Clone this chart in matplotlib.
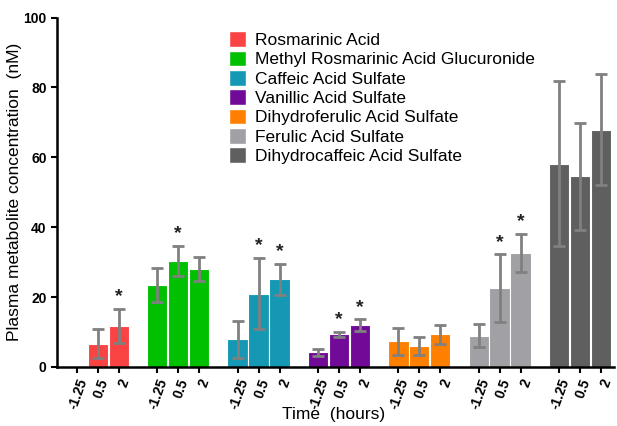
import matplotlib
matplotlib.use("Agg")
import matplotlib.pyplot as plt
import numpy as np
from matplotlib.patches import Patch

plt.rcParams['font.family'] = ['Liberation Sans', 'DejaVu Sans']

metabolites = ["Rosmarinic Acid", "Methyl Rosmarinic Acid Glucuronide", "Caffeic Acid Sulfate",
               "Vanillic Acid Sulfate", "Dihydroferulic Acid Sulfate", "Ferulic Acid Sulfate",
               "Dihydrocaffeic Acid Sulfate"]
times = ["-1.25", "0.5", "2"]
colors = ["#FA4444", "#00C000", "#1498B3", "#720A98", "#FF7F00", "#A0A0A5", "#5F5F5F"]

means = [
    [0.0, 6.7, 11.7],
    [23.5, 30.3, 28.1],
    [7.9, 21.0, 25.1],
    [4.2, 9.4, 12.0],
    [7.4, 6.0, 9.3],
    [9.0, 22.5, 32.6],
    [58.2, 54.6, 67.9],
]
errors = [
    [0.0, 4.2, 4.9],
    [4.9, 4.3, 3.4],
    [5.4, 10.2, 4.5],
    [1.0, 0.7, 1.7],
    [3.9, 2.7, 2.6],
    [3.3, 9.7, 5.5],
    [23.5, 15.3, 15.9],
]
significant = [
    [0, 0, 1],
    [0, 1, 0],
    [0, 1, 1],
    [0, 1, 1],
    [0, 0, 0],
    [0, 1, 1],
    [0, 0, 0],
]

fig = plt.figure(figsize=(6.17, 4.26), dpi=100)
ax = fig.add_axes([57/617, 59/426, (614-57)/617, (366.5-17)/426])

group_step = 3.83
xs_all, labels_all = [], []
for g, name in enumerate(metabolites):
    xs = g * group_step + np.arange(3)
    m = np.array(means[g]); e = np.array(errors[g])
    show = m > 0
    ax.bar(xs[show], m[show], width=0.97, color=colors[g], edgecolor="white", linewidth=0.8, zorder=2)
    ax.errorbar(xs[show], m[show], yerr=e[show], fmt="none", ecolor="#808080",
                elinewidth=2, capsize=4, capthick=2, zorder=3)
    for i in range(3):
        if significant[g][i]:
            ax.text(xs[i], m[i] + e[i] + 1.0, "*", ha="center", va="bottom",
                    fontsize=14, fontweight="bold", color="#222222")
    xs_all.extend(xs); labels_all.extend(times)

ax.set_xticks(xs_all)
ax.set_xticklabels(labels_all, rotation=70, ha="right", rotation_mode="anchor",
                   fontsize=10, fontweight="bold")
ax.tick_params(axis="x", length=4, width=1.5, pad=3)
ax.tick_params(axis="y", length=4, width=1.5, labelsize=10)
for lab in ax.get_yticklabels():
    lab.set_fontweight("bold")
ax.set_ylim(0, 100)
ax.set_yticks([0, 20, 40, 60, 80, 100])
ax.set_xlim(-0.95, xs_all[-1] + 0.62)
for s in ["top", "right"]:
    ax.spines[s].set_visible(False)
for s in ["left", "bottom"]:
    ax.spines[s].set_linewidth(1.8)

ax.set_ylabel("Plasma metabolite concentration  (nM)", fontsize=12.5)
ax.yaxis.set_label_coords(-0.062, 0.5)
ax.set_xlabel("Time  (hours)", fontsize=12.5)
ax.xaxis.set_label_coords(0.497, -0.115)

handles = [Patch(facecolor=c, edgecolor="white") for c in colors]
ax.legend(handles, metabolites, loc="upper left", bbox_to_anchor=(0.283, 1.0),
          frameon=False, fontsize=12.5, handlelength=1.0, handleheight=1.0,
          handletextpad=0.55, labelspacing=0.15, borderaxespad=0.4)

fig.savefig("out.png", dpi=100)
